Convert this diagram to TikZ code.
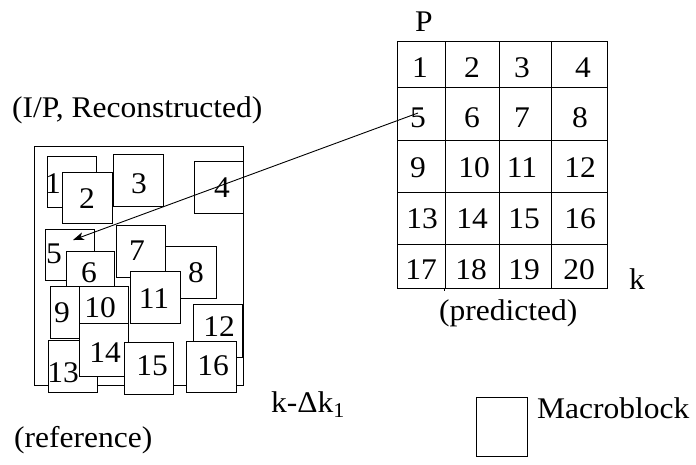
\documentclass[tikz,border=0pt]{standalone}
\usepackage{fontspec}
\setmainfont{Liberation Serif}[FakeStretch=1.05]
\usetikzlibrary{arrows.meta,fit}
\newcommand{\mblk}[8]{%
  \node[blk, fit={(#2,#3)(#4,#5)}] (#1) {};
  \node[num] (#1t) at (#7,#8) {#6};}
\newcommand{\gcell}[5]{%
  \node[cell, fit={(#2,#3)(#4,#5)}] (#1) {};}
\begin{document}
\begin{tikzpicture}[x=1pt,y=-1pt,
  every node/.style={font=\fontsize{30}{36}\selectfont, inner sep=0pt},
  blk/.style={draw, fill=white, inner sep=0pt, line width=0.9pt},
  cell/.style={draw, inner sep=0pt, line width=0.9pt},
  num/.style={anchor=base},
  lbl/.style={anchor=base west},
  arr/.style={line width=0.9pt, -{Stealth[length=11pt,width=8pt,inset=3pt]}}]
\useasboundingbox (0,0) rectangle (696,464);
% left frame
\node[cell, fit={(34,146)(243,385)}] (frame) {};
\mblk{L1}{47}{156}{96}{207}{1}{53}{193}
\mblk{L2}{62}{172}{112}{223}{2}{87}{208}
\mblk{L3}{113}{154}{163}{206}{3}{139}{193}
\mblk{L4}{194}{161}{243}{213}{4}{222}{197}
\mblk{L5}{45}{229}{94}{280}{5}{54}{263}
\mblk{L6}{66}{251}{114}{301}{6}{89}{282}
\mblk{L9}{50}{286}{99}{338}{9}{62}{322}
\mblk{L10}{79}{286}{128}{337}{10}{100}{317}
\mblk{L8}{165}{246}{216}{298}{8}{196}{282}
\mblk{L7}{116}{225}{165}{277}{7}{137}{260}
\mblk{L11}{130}{271}{180}{323}{11}{154}{308}
\mblk{L13}{48}{340}{97}{392}{13}{63}{382}
\mblk{L14}{79}{323}{128}{376}{14}{105}{362}
\mblk{L15}{124}{342}{173}{394}{15}{152}{375}
\mblk{L12}{193}{304}{242}{357}{12}{219}{336}
\mblk{L16}{186}{341}{236}{392}{16}{213}{375}
% right grid
\gcell{G1}{397}{41}{445}{87}
\gcell{G2}{445}{41}{499}{87}
\gcell{G3}{499}{41}{551}{87}
\gcell{G4}{551}{41}{607}{87}
\gcell{G5}{397}{87}{445}{140}
\gcell{G6}{445}{87}{499}{140}
\gcell{G7}{499}{87}{551}{140}
\gcell{G8}{551}{87}{607}{140}
\gcell{G9}{397}{140}{445}{192}
\gcell{G10}{445}{140}{499}{192}
\gcell{G11}{499}{140}{551}{192}
\gcell{G12}{551}{140}{607}{192}
\gcell{G13}{397}{192}{445}{244}
\gcell{G14}{445}{192}{499}{244}
\gcell{G15}{499}{192}{551}{244}
\gcell{G16}{551}{192}{607}{244}
\gcell{G17}{397}{244}{445}{288}
\gcell{G18}{445}{244}{499}{288}
\gcell{G19}{499}{244}{551}{288}
\gcell{G20}{551}{244}{607}{288}
\draw[line width=0.9pt] (G18.south west) -- ++(0,3);
\foreach \t/\cx/\cy in {1/420/77,2/472/77,3/522/77,4/583/77,
  5/418/127,6/472/127,7/522/127,8/580/127,
  9/418/177,10/474/177,11/522/177,12/580/177,
  13/422/228,14/472/228,15/524/228,16/580/228,
  17/421/279,18/471/279,19/524/279,20/579/279}
  \node[num] (Gt\t) at (\cx,\cy) {\t};
% arrow
\coordinate (arrS) at (418,113);
\coordinate (arrE) at (73,240);
\draw[arr] (arrS) -- (arrE);
% labels
\node[num] (P) at (424,31) {P};
\node[lbl] (ipr) at (12,117) {(I/P, Reconstructed)};
\node[num] (k) at (637,289) {k};
\node[lbl] (pred) at (439,320) {(predicted)};
\node[lbl] (kdk) at (271,412) {k-Δk\textsubscript{1}};
\node[lbl] (ref) at (14,447) {(reference)};
\node[cell, fit={(476,397)(527,456)}] (legend) {};
\node[lbl] (mb) at (537,418) {Macroblock};
\end{tikzpicture}
\end{document}
